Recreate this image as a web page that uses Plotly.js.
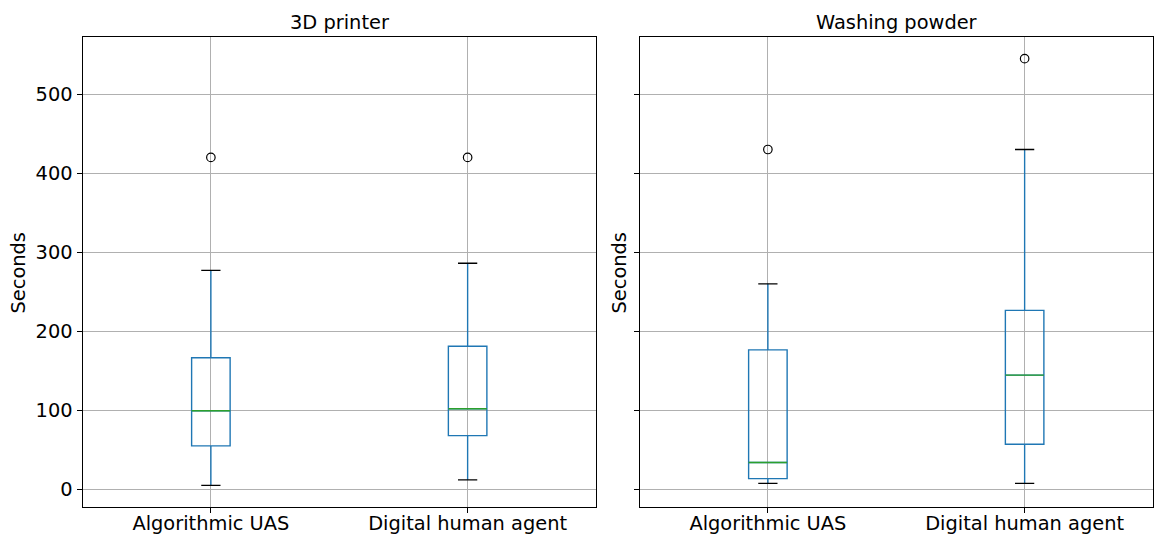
<!DOCTYPE html>
<html>
<head>
<meta charset="utf-8">
<script src="https://cdn.plot.ly/plotly-3.0.1.min.js"></script>
<style>html,body{margin:0;padding:0;background:#fff;}#chart{width:1154px;height:535px;}</style>
</head>
<body>
<div id="chart"></div>
<script>
// ---- data ----
const categories = ['Algorithmic UAS', 'Digital human agent'];
const positions = [1, 2];
const panelTitles = ['3D printer', 'Washing powder'];

const printerQ1 = [55, 68];
const printerMedian = [99.5, 102];
const printerQ3 = [166.5, 181];
const printerLower = [5, 12];
const printerUpper = [277, 286];
const printerOutliers = [420, 420];

const washingQ1 = [13.5, 57];
const washingMedian = [34, 144.5];
const washingQ3 = [176.5, 226.5];
const washingLower = [7.5, 7.5];
const washingUpper = [260, 430];
const washingOutliers = [430, 545];

const yTicks = [0, 100, 200, 300, 400, 500];

// ---- styling ----
const BLUE = '#1f77b4', GREEN = '#2ca02c', BLACK = '#000000';
const BOXW = 0.15, CAPW = 0.075, LW = 1.4;
const FONT = 'DejaVu Sans, Liberation Sans, sans-serif';

function panel(q1, med, q3, lo, hi, outl, xa, ya) {
  const traces = [];
  traces.push({
    type: 'box', x: positions, q1: q1, median: med, q3: q3,
    lowerfence: lo, upperfence: hi, width: BOXW, whiskerwidth: 0,
    boxpoints: false, line: {color: BLUE, width: LW},
    fillcolor: 'rgba(0,0,0,0)', xaxis: xa, yaxis: ya, showlegend: false, hoverinfo: 'skip'
  });
  // medians (green)
  const mx = [], my = [];
  positions.forEach((p, i) => { mx.push(p - BOXW / 2, p + BOXW / 2, null); my.push(med[i], med[i], null); });
  traces.push({type: 'scatter', mode: 'lines', x: mx, y: my, line: {color: GREEN, width: LW},
    xaxis: xa, yaxis: ya, showlegend: false, hoverinfo: 'skip'});
  // caps (black)
  const cx = [], cy = [];
  positions.forEach((p, i) => {
    cx.push(p - CAPW / 2, p + CAPW / 2, null, p - CAPW / 2, p + CAPW / 2, null);
    cy.push(lo[i], lo[i], null, hi[i], hi[i], null);
  });
  traces.push({type: 'scatter', mode: 'lines', x: cx, y: cy, line: {color: BLACK, width: LW},
    xaxis: xa, yaxis: ya, showlegend: false, hoverinfo: 'skip'});
  // outliers
  traces.push({type: 'scatter', mode: 'markers', x: positions, y: outl,
    marker: {symbol: 'circle-open', size: 8.5, color: BLACK, line: {width: 1.2, color: BLACK}},
    xaxis: xa, yaxis: ya, showlegend: false, hoverinfo: 'skip'});
  return traces;
}

const data = [].concat(
  panel(printerQ1, printerMedian, printerQ3, printerLower, printerUpper, printerOutliers, 'x', 'y'),
  panel(washingQ1, washingMedian, washingQ3, washingLower, washingUpper, washingOutliers, 'x2', 'y2')
);

const W = 1154, H = 535;
const xDom1 = [82.5 / W, 596 / W];
const xDom2 = [639.5 / W, 1153 / W];
const yDom = [(H - 506.7) / H, (H - 37.3) / H];

function xAxis(dom, anchor) {
  return {
    domain: dom, anchor: anchor, range: [0.5, 2.5], tickmode: 'array', tickvals: positions, ticktext: categories,
    showgrid: true, gridcolor: '#b0b0b0', gridwidth: 1, zeroline: false,
    showline: true, linecolor: BLACK, linewidth: 1, mirror: true,
    ticks: 'outside', ticklen: 5, tickwidth: 1, tickcolor: BLACK, ticklabelstandoff: -6,
    tickfont: {family: FONT, size: 19.4, color: BLACK}, fixedrange: true
  };
}
function yAxis(anchor, labels) {
  return {
    domain: yDom, anchor: anchor, range: [-22, 572], tickmode: 'array', tickvals: yTicks,
    showticklabels: labels,
    showgrid: true, gridcolor: '#b0b0b0', gridwidth: 1, zeroline: false,
    showline: true, linecolor: BLACK, linewidth: 1, mirror: true,
    ticks: 'outside', ticklen: 5, tickwidth: 1, tickcolor: BLACK,
    tickfont: {family: FONT, size: 19.4, color: BLACK}, fixedrange: true
  };
}

const layout = {
  width: W, height: H, margin: {l: 0, r: 0, t: 0, b: 0},
  paper_bgcolor: '#fff', plot_bgcolor: '#fff', showlegend: false,
  font: {family: FONT, color: BLACK},
  xaxis: xAxis(xDom1, 'y'), yaxis: yAxis('x', true),
  xaxis2: xAxis(xDom2, 'y2'), yaxis2: Object.assign(yAxis('x2', false), {matches: 'y'}),
  annotations: [
    {text: panelTitles[0], xref: 'paper', yref: 'paper', x: (xDom1[0] + xDom1[1]) / 2, y: (H - 22) / H,
      xanchor: 'center', yanchor: 'middle', showarrow: false, font: {family: FONT, size: 19.4, color: BLACK}},
    {text: panelTitles[1], xref: 'paper', yref: 'paper', x: (xDom2[0] + xDom2[1]) / 2, y: (H - 22) / H,
      xanchor: 'center', yanchor: 'middle', showarrow: false, font: {family: FONT, size: 19.4, color: BLACK}},
    {text: 'Seconds', xref: 'paper', yref: 'paper', x: 18 / W, y: (H - 273.5) / H, textangle: -90,
      xanchor: 'center', yanchor: 'middle', showarrow: false, font: {family: FONT, size: 19.4, color: BLACK}},
    {text: 'Seconds', xref: 'paper', yref: 'paper', x: 619 / W, y: (H - 273.5) / H, textangle: -90,
      xanchor: 'center', yanchor: 'middle', showarrow: false, font: {family: FONT, size: 19.4, color: BLACK}}
  ]
};

Plotly.newPlot('chart', data, layout, {staticPlot: true, displayModeBar: false});
</script>
</body>
</html>
